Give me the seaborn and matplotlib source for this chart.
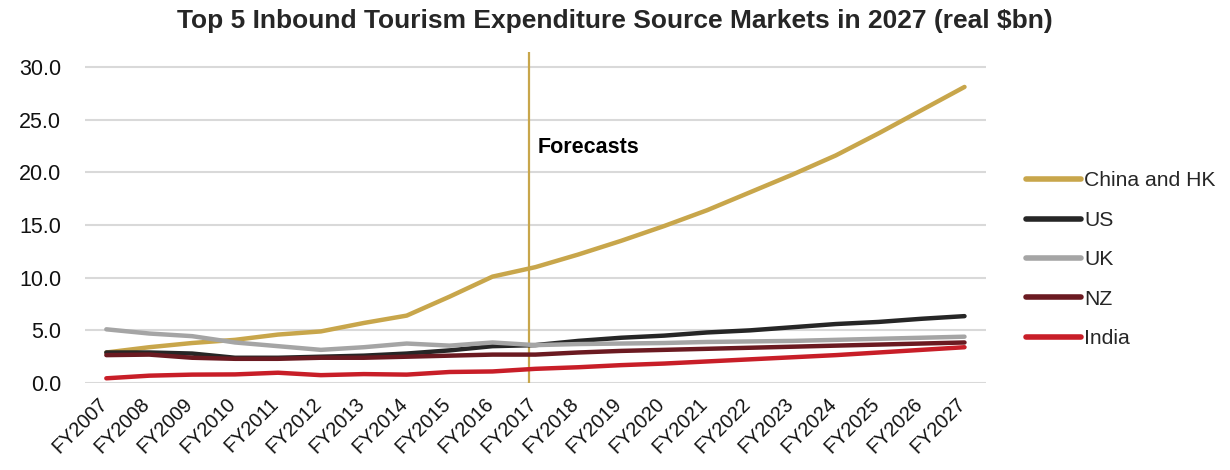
import pandas as pd
import matplotlib.pyplot as plt
import matplotlib.transforms as mtransforms
import seaborn as sns

years = [f"FY{y}" for y in range(2007, 2028)]

china_hk = [2.9, 3.4, 3.8, 4.1, 4.6, 4.9, 5.7, 6.4, 8.2, 10.1, 11.0,
            12.2, 13.5, 14.9, 16.4, 18.1, 19.8, 21.6, 23.7, 25.9, 28.1]
us = [2.9, 2.9, 2.8, 2.4, 2.4, 2.5, 2.6, 2.8, 3.1, 3.5, 3.6,
      4.0, 4.3, 4.5, 4.8, 5.0, 5.3, 5.6, 5.8, 6.1, 6.35]
uk = [5.1, 4.7, 4.45, 3.85, 3.5, 3.15, 3.4, 3.75, 3.55, 3.85, 3.6,
      3.7, 3.75, 3.8, 3.9, 3.95, 4.0, 4.1, 4.2, 4.3, 4.4]
nz = [2.65, 2.7, 2.4, 2.3, 2.3, 2.4, 2.4, 2.5, 2.6, 2.7, 2.7,
      2.9, 3.05, 3.15, 3.25, 3.35, 3.45, 3.55, 3.65, 3.75, 3.85]
india = [0.45, 0.7, 0.8, 0.82, 0.98, 0.75, 0.85, 0.8, 1.05, 1.1, 1.35,
         1.5, 1.7, 1.85, 2.05, 2.25, 2.45, 2.65, 2.9, 3.15, 3.4]

series = {
    "China and HK": china_hk,
    "US": us,
    "UK": uk,
    "NZ": nz,
    "India": india,
}
colors = ["#C8A64B", "#262626", "#A5A5A5", "#6B1A21", "#C81E28"]

rows = []
for name, vals in series.items():
    for i, v in enumerate(vals):
        rows.append({"idx": i, "value": v, "market": name})
df = pd.DataFrame(rows)

sns.set_style("white")
plt.rcParams["font.family"] = ["Liberation Sans", "DejaVu Sans"]

fig = plt.figure(figsize=(12.3, 4.7), dpi=100)
ax = fig.add_axes([0.069, 0.185, 0.7326, 0.704])

sns.lineplot(
    data=df,
    x="idx",
    y="value",
    hue="market",
    palette=colors,
    linewidth=3.2,
    ax=ax,
    legend=False,
    solid_capstyle="round",
)

# forecast marker
ax.axvline(9.84, color="#C8A64B", linewidth=1.6, zorder=1)
ax.text(10.05, 22.4, "Forecasts", fontsize=15.5, fontweight="bold",
        va="center", ha="left", color="black")

ax.set_xlim(-0.5, 20.5)
ax.set_ylim(0, 31.4)
ax.set_yticks([0, 5, 10, 15, 20, 25, 30])
ax.set_yticklabels([f"{v:.1f}" for v in [0, 5, 10, 15, 20, 25, 30]],
                   fontsize=15.5, color="#111111")
ax.set_xticks(range(len(years)))
ax.set_xticklabels(years, rotation=45, ha="right", rotation_mode="anchor",
                   fontsize=14.3, color="#111111")
ax.tick_params(axis="y", length=0, pad=17)
ax.tick_params(axis="x", length=0, pad=8)

# nudge x labels left a little
offset = mtransforms.ScaledTranslation(-9 / 100, 0, fig.dpi_scale_trans)
for lbl in ax.get_xticklabels():
    lbl.set_transform(lbl.get_transform() + offset)

ax.set_xlabel("")
ax.set_ylabel("")
ax.grid(axis="y", color="#D9D9D9", linewidth=1.5)
ax.set_axisbelow(True)
for s in ax.spines.values():
    s.set_visible(False)

handles = [plt.Line2D([], [], color=c, linewidth=4, solid_capstyle="round")
           for c in colors]
fig.legend(handles, list(series.keys()), loc="center left",
           bbox_to_anchor=(0.819, 0.447), frameon=False, fontsize=15.2,
           handlelength=2.6, handletextpad=0.15, labelspacing=0.97)

fig.suptitle("Top 5 Inbound Tourism Expenditure Source Markets in 2027 (real $bn)",
             fontsize=19, fontweight="bold", y=0.98)

plt.savefig("out.png")
plt.close()
